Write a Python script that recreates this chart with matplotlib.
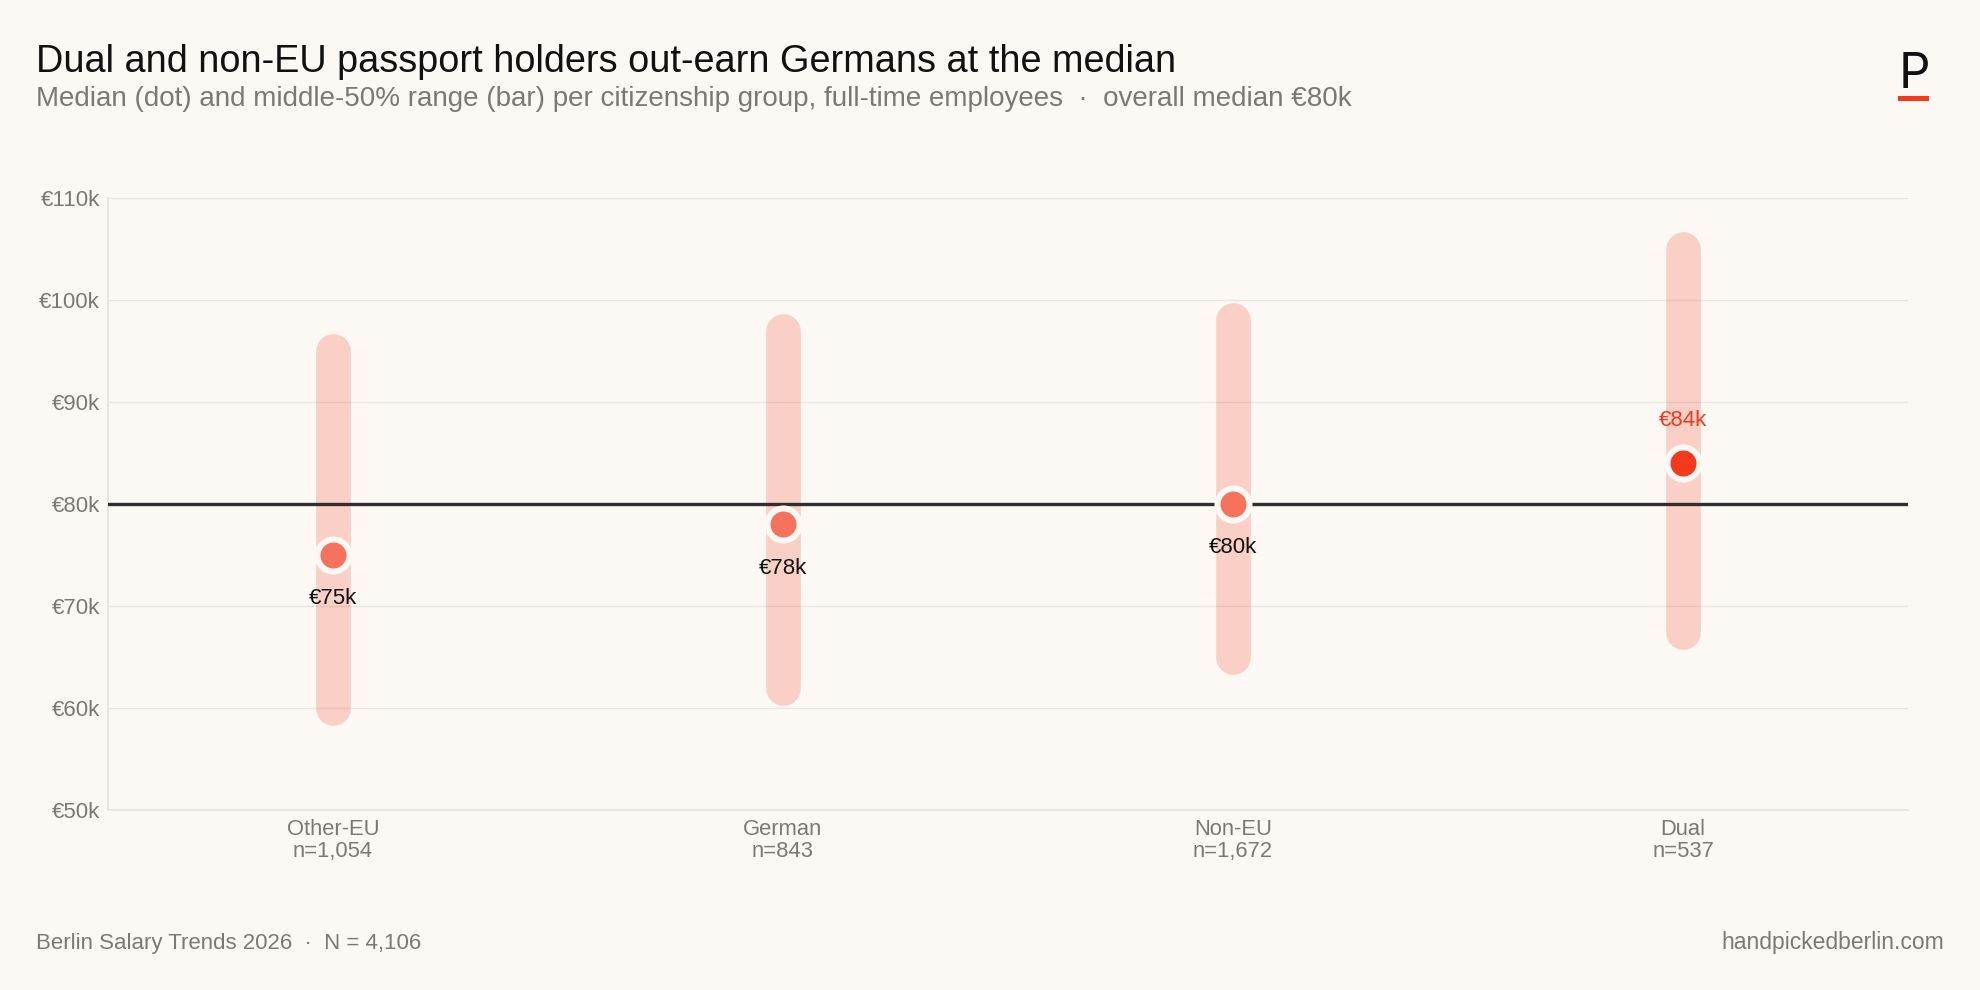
import matplotlib
# Use Agg backend for headless environments (no GUI)
matplotlib.use("Agg")
import matplotlib.pyplot as plt
from matplotlib.patches import Rectangle

# ---------------------------------------------------------------------------
# Data
# ---------------------------------------------------------------------------
groups = ["Other-EU", "German", "Non-EU", "Dual"]
counts = ["n=1,054", "n=843", "n=1,672", "n=537"]
medians = [75, 78, 80, 84]
q1 = [60, 62, 65, 67.5]
q3 = [95, 97, 98, 105]
overall_median = 80
y_ticks = [50, 60, 70, 80, 90, 100, 110]

BG = "#FCF9F4"
ACCENT = "#F5391C"
INK = "#111111"
GREY = "#7A7A75"
RULE = "#E9E6E1"

W, H = 1980, 990
plt.rcParams["font.family"] = ["Liberation Sans", "DejaVu Sans"]

fig = plt.figure(figsize=(W / 100, H / 100), dpi=100, facecolor=BG)
ax = fig.add_axes([108 / W, 1 - 810 / H, 1800 / W, 612 / H], facecolor=BG)

ax.set_xlim(-0.5, len(groups) - 0.5)
ax.set_ylim(50, 110)

# Axes frame and grid
for side in ["top", "right"]:
    ax.spines[side].set_visible(False)
for side in ["left", "bottom"]:
    ax.spines[side].set_color(RULE)
    ax.spines[side].set_linewidth(1.5)
ax.set_yticks(y_ticks)
ax.set_yticklabels([f"€{v}k" for v in y_ticks], fontsize=16, color=GREY)
ax.set_xticks(range(len(groups)))
ax.set_xticklabels([f"{g}\n{n}" for g, n in zip(groups, counts)],
                   fontsize=15.8, color=GREY, linespacing=1.05)
ax.tick_params(axis="both", length=0)
ax.tick_params(axis="y", pad=6)
ax.tick_params(axis="x", pad=6.5)
ax.grid(axis="y", color=RULE, linewidth=1.0, zorder=1)
ax.set_axisbelow(True)

# Interquartile bars, overall median line, median dots
for i in range(len(groups)):
    ax.plot([i, i], [q1[i], q3[i]], color=ACCENT, alpha=0.21, linewidth=25,
            solid_capstyle="round", zorder=2)

ax.axhline(overall_median, color="#2F2F2F", linewidth=2.4, zorder=3)

for i, m in enumerate(medians):
    top = i == len(groups) - 1
    ax.scatter(i, m, s=750, color=BG, linewidths=0, zorder=4)
    ax.scatter(i, m, s=350, color=ACCENT, alpha=1 if top else 0.7,
               linewidths=0, zorder=5)
    ax.annotate(f"€{m}k", (i, m), xytext=(0, 30.5 if top else -31.5),
                textcoords="offset points", ha="center", va="center",
                fontsize=16, color=ACCENT if top else INK, zorder=6)

# Header
fig.text(36 / W, 1 - 62 / H, "Dual and non-EU passport holders out-earn Germans at the median",
         fontsize=27.25, color=INK, va="center")
fig.text(36 / W, 1 - 99 / H,
         "Median (dot) and middle-50% range (bar) per citizenship group, "
         "full-time employees  ·  overall median €80k",
         fontsize=20, color=GREY, va="center")

# Logo mark
fig.text(1914 / W, 1 - 88 / H, "P", fontsize=35.5, family="Inter",
         color=INK, ha="center", va="baseline")
fig.add_artist(Rectangle((1898 / W, 1 - 101 / H), 31 / W, 5 / H,
                         transform=fig.transFigure, color=ACCENT, linewidth=0))

# Footer
fig.text(36 / W, 1 - 944 / H, "Berlin Salary Trends 2026  ·  N = 4,106",
         fontsize=16.05, color=GREY, va="center")
fig.text(1944 / W, 1 - 943 / H, "handpickedberlin.com",
         fontsize=16.5, color=GREY, va="center", ha="right")

fig.savefig("out.png", dpi=100, facecolor=BG)
